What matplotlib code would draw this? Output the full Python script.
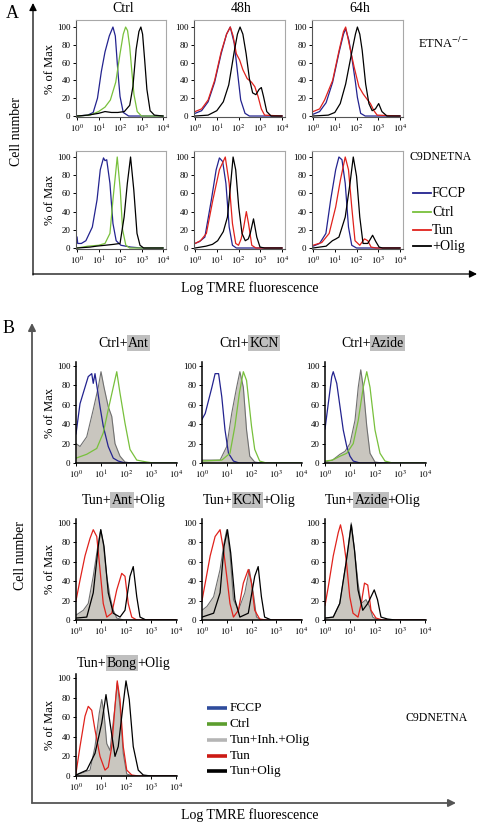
import numpy as np
import matplotlib
matplotlib.use("Agg")
import matplotlib.pyplot as plt

plt.rcParams['font.family'] = ['Liberation Serif', 'DejaVu Serif']
plt.rcParams['mathtext.fontset'] = 'stix'

W, H = 480, 822

# --------- Datos (log10 intensidad, % of Max) ---------

# Panel A, ETNA-/-
a_e_ctrl_fccp = [(0,0),(0.5,1),(0.75,4),(0.95,20),(1.13,50),(1.3,72),(1.5,90),(1.67,100),(1.78,90),(1.9,50),(2.0,22),(2.15,4),(2.4,0),(4,0)]
a_e_ctrl_ctrl = [(0,0),(0.6,1),(1.0,5),(1.3,10),(1.55,18),(1.8,38),(2.0,70),(2.15,92),(2.26,100),(2.35,96),(2.45,78),(2.55,50),(2.65,24),(2.8,5),(3.0,0),(4,0)]
a_e_ctrl_olig = [(0,0),(0.5,1),(1.0,3),(1.3,5),(1.6,4),(1.9,4),(2.2,5),(2.45,12),(2.6,33),(2.75,75),(2.88,95),(2.97,100),(3.05,92),(3.15,62),(3.25,30),(3.4,6),(3.6,1),(4,0)]

a_e_48_fccp = [(0,3),(0.3,6),(0.6,16),(0.9,38),(1.2,70),(1.45,92),(1.62,100),(1.8,82),(1.95,50),(2.1,18),(2.3,3),(2.5,0),(4,0)]
a_e_48_tun = [(0,5),(0.3,8),(0.6,18),(0.9,40),(1.2,72),(1.45,92),(1.62,100),(1.75,90),(1.9,70),(2.05,63),(2.2,52),(2.4,42),(2.6,38),(2.75,33),(2.9,22),(3.05,8),(3.2,1),(4,0)]
a_e_48_olig = [(0,0),(0.6,1),(1.0,6),(1.3,16),(1.55,35),(1.8,72),(1.95,92),(2.07,100),(2.2,92),(2.35,70),(2.5,42),(2.65,26),(2.8,24),(2.95,30),(3.05,32),(3.15,22),(3.3,5),(3.5,0),(4,0)]

a_e_64_fccp = [(0,2),(0.3,5),(0.6,15),(0.9,38),(1.2,72),(1.4,92),(1.5,98),(1.65,85),(1.8,63),(1.95,38),(2.04,21),(2.19,3),(2.4,0),(4,0)]
a_e_64_tun = [(0,5),(0.3,8),(0.53,18),(0.9,40),(1.2,74),(1.4,95),(1.5,100),(1.66,81),(1.89,55),(2.11,33),(2.3,25),(2.42,21),(2.64,14),(2.8,6),(2.95,1),(4,0)]
a_e_64_olig = [(0,0),(0.7,1),(1.0,4),(1.25,14),(1.5,36),(1.8,74),(1.95,92),(2.04,100),(2.15,92),(2.26,74),(2.42,36),(2.57,14),(2.72,6),(2.87,8),(3.02,14),(3.17,5),(3.4,0),(4,0)]

# Panel A, C9DNETNA
a_c_ctrl_fccp = [(0,12),(0.03,5),(0.2,5),(0.41,8),(0.71,23),(0.93,53),(1.08,86),(1.23,99),(1.3,96),(1.38,97),(1.53,71),(1.67,27),(1.82,8),(2.04,3),(2.5,1),(3,0),(4,0)]
a_c_ctrl_ctrl = [(0,0),(0.5,2),(1.0,3),(1.3,5),(1.53,16),(1.67,53),(1.87,100),(2.01,64),(2.12,20),(2.27,3),(2.45,0),(4,0)]
a_c_ctrl_olig = [(0,0),(0.6,1),(0.9,2),(1.3,3),(1.7,4),(2.0,5),(2.19,34),(2.34,71),(2.49,100),(2.64,64),(2.79,16),(2.93,3),(3.1,0),(4,0)]

a_c_48_fccp = [(0,5),(0.2,7),(0.45,12),(0.75,53),(0.97,86),(1.12,99),(1.27,95),(1.42,71),(1.57,23),(1.72,3),(1.9,0),(4,0)]
a_c_48_tun = [(0,5),(0.25,8),(0.52,16),(0.82,53),(1.12,86),(1.39,100),(1.57,71),(1.72,27),(1.87,5),(2.0,3),(2.12,10),(2.24,23),(2.36,40),(2.46,27),(2.61,3),(2.8,0),(4,0)]
a_c_48_olig = [(0,0),(0.5,2),(0.8,4),(1.04,8),(1.3,18),(1.49,34),(1.64,71),(1.75,100),(1.87,86),(2.01,45),(2.16,16),(2.31,8),(2.45,10),(2.54,16),(2.69,32),(2.84,12),(2.99,1),(3.2,0),(4,0)]

a_c_64_fccp = [(0,2),(0.3,5),(0.59,16),(0.81,53),(1.04,86),(1.19,100),(1.33,97),(1.48,71),(1.63,23),(1.78,3),(2.0,0),(4,0)]
a_c_64_tun = [(0,3),(0.4,6),(0.74,16),(1.04,45),(1.26,75),(1.48,100),(1.63,86),(1.78,45),(1.93,8),(2.15,3),(2.3,8),(2.37,10),(2.52,8),(2.67,1),(2.9,0),(4,0)]
a_c_64_olig = [(0,0),(0.6,2),(0.89,8),(1.05,10),(1.19,12),(1.48,34),(1.7,71),(1.85,100),(2.0,79),(2.15,34),(2.3,5),(2.52,5),(2.74,14),(2.89,7),(3.04,1),(3.2,0),(4,0)]

# Panel B, fila 1 (Ctrl + inhibidor)
b_ant_fccp = [(0,30),(0.16,61),(0.36,78),(0.49,89),(0.63,92),(0.69,82),(0.76,92),(0.96,58),(1.09,38),(1.29,17),(1.49,5),(1.69,2),(1.96,0),(4,0)]
b_ant_inh = [(0,20),(0.16,17),(0.43,27),(0.69,55),(0.89,78),(1.0,94),(1.12,78),(1.29,58),(1.43,48),(1.56,20),(1.76,7),(1.96,1),(2.2,0),(4,0)]
b_ant_ctrl = [(0,5),(0.43,9),(0.83,15),(1.09,31),(1.29,55),(1.49,78),(1.63,94),(1.76,72),(1.96,41),(2.16,14),(2.43,3),(2.83,1),(3.1,0),(4,0)]

b_kcn_fccp = [(0,45),(0.13,51),(0.27,65),(0.4,78),(0.53,92),(0.67,92),(0.8,68),(0.93,34),(1.07,10),(1.27,2),(1.5,0),(4,0)]
b_kcn_inh = [(0,3),(0.73,3),(1.0,17),(1.2,51),(1.4,78),(1.53,94),(1.67,78),(1.8,34),(1.93,7),(2.13,1),(2.4,0),(4,0)]
b_kcn_ctrl = [(0,2),(0.8,3),(1.13,10),(1.33,38),(1.51,72),(1.67,94),(1.8,85),(2.0,38),(2.13,14),(2.33,2),(2.6,0),(4,0)]

b_azide_fccp = [(0,35),(0.13,61),(0.27,89),(0.33,94),(0.47,82),(0.6,58),(0.73,34),(0.87,17),(1.0,7),(1.13,2),(1.4,0),(4,0)]
b_azide_inh = [(0,1),(0.3,3),(0.6,9),(0.8,12),(1.0,20),(1.2,44),(1.33,78),(1.43,96),(1.53,78),(1.67,38),(1.8,10),(2.0,1),(2.3,0),(4,0)]
b_azide_ctrl = [(0,2),(0.3,3),(0.6,7),(0.87,10),(1.13,20),(1.33,44),(1.53,78),(1.67,94),(1.8,78),(2.0,34),(2.2,10),(2.4,2),(2.7,0),(4,0)]

# Panel B, fila 2 (Tun + inhibidor + Olig)
b_tant_tun = [(0,20),(0.16,41),(0.36,66),(0.56,84),(0.69,93),(0.83,86),(0.96,52),(1.09,17),(1.23,3),(1.43,7),(1.63,31),(1.83,48),(1.96,45),(2.09,17),(2.23,3),(2.43,0),(4,0)]
b_tant_inh = [(0,5),(0.29,10),(0.49,17),(0.69,45),(0.89,79),(0.99,93),(1.09,79),(1.23,45),(1.36,24),(1.49,10),(1.63,2),(1.9,0),(4,0)]
b_tant_olig = [(0,2),(0.43,3),(0.69,28),(0.89,76),(0.99,93),(1.12,76),(1.29,28),(1.49,7),(1.76,3),(1.96,10),(2.16,45),(2.29,55),(2.43,24),(2.56,3),(2.8,0),(4,0)]

b_tkcn_tun = [(0,20),(0.13,38),(0.33,66),(0.53,86),(0.73,93),(0.87,72),(1.0,45),(1.13,17),(1.27,3),(1.47,10),(1.67,38),(1.87,52),(2.0,38),(2.13,10),(2.33,1),(2.6,0),(4,0)]
b_tkcn_inh = [(0,10),(0.2,14),(0.47,24),(0.73,52),(0.89,79),(1.0,93),(1.13,69),(1.27,21),(1.47,10),(1.73,28),(1.91,52),(2.07,28),(2.2,3),(2.4,0),(4,0)]
b_tkcn_olig = [(0,3),(0.47,7),(0.73,28),(0.89,76),(1.03,93),(1.16,69),(1.33,21),(1.53,3),(1.87,7),(2.13,45),(2.27,55),(2.4,24),(2.53,3),(2.8,0),(4,0)]

b_tazide_tun = [(0,15),(0.13,34),(0.33,66),(0.53,90),(0.62,98),(0.72,86),(0.86,59),(0.99,24),(1.12,7),(1.32,3),(1.45,17),(1.58,38),(1.71,36),(1.84,10),(2.04,2),(2.3,0),(4,0)]
b_tazide_inh = [(0,2),(0.33,3),(0.59,17),(0.86,62),(1.05,100),(1.18,72),(1.32,38),(1.45,17),(1.64,21),(1.78,14),(1.91,3),(2.1,0),(4,0)]
b_tazide_olig = [(0,2),(0.33,3),(0.59,17),(0.86,62),(1.05,98),(1.18,72),(1.32,31),(1.51,10),(1.71,17),(1.97,31),(2.1,21),(2.24,3),(2.5,1),(2.8,0),(4,0)]

# Panel B, fila 3 (Bong)
b_bong_tun = [(0,3),(0.16,30),(0.36,61),(0.49,71),(0.63,67),(0.76,47),(0.96,20),(1.16,6),(1.29,9),(1.43,30),(1.56,71),(1.65,97),(1.76,78),(1.89,30),(2.03,6),(2.23,1),(2.5,0),(4,0)]
b_bong_inh = [(0,1),(0.56,6),(0.76,30),(0.93,64),(1.03,78),(1.12,64),(1.23,33),(1.36,26),(1.56,71),(1.65,95),(1.76,71),(1.89,23),(2.03,2),(2.3,0),(4,0)]
b_bong_olig = [(0,1),(0.43,6),(0.76,23),(1.03,54),(1.2,83),(1.36,54),(1.56,20),(1.69,30),(1.89,74),(2.0,97),(2.13,78),(2.29,30),(2.49,6),(2.69,1),(3.0,0),(4,0)]

a_titles = ["Ctrl", "48h", "64h"]
a_legend = ["FCCP", "Ctrl", "Tun", "+Olig"]
b_legend = ["FCCP", "Ctrl", "Tun+Inh.+Olig", "Tun", "Tun+Olig"]
y_ticks = [0, 20, 40, 60, 80, 100]
x_ticks = [0, 1, 2, 3, 4]

BLUE = "#23238f"
GREEN = "#78c03c"
RED = "#e0221c"
BLACK = "#000000"
FILL = "#c9c6bf"
EDGE = "#707070"

# --------- Auxiliares ---------

fig = plt.figure(figsize=(W / 100, H / 100), dpi=100)
bg = fig.add_axes([0, 0, 1, 1])
bg.set_xlim(0, W)
bg.set_ylim(H, 0)
bg.axis("off")


def px_axes(x0, y0, x1, y1):
    ax = fig.add_axes([x0 / W, 1 - y1 / H, (x1 - x0) / W, (y1 - y0) / H])
    ax.patch.set_alpha(0)
    return ax


def style_ticks(ax):
    ax.set_xticks(x_ticks)
    ax.set_xticklabels([rf"$10^{{{t}}}$" for t in x_ticks])
    ax.set_yticks(y_ticks)
    ax.set_yticklabels([str(t) for t in y_ticks])
    ax.tick_params(direction="out", length=2.5, width=0.7, labelsize=6.5, pad=1.5)


def curve(ax, pts, color, lw=0.9, fill=False):
    x = [p[0] for p in pts]
    y = [p[1] for p in pts]
    if fill:
        ax.fill_between(x, y, 0, color=FILL, lw=0)
        ax.plot(x, y, color=EDGE, lw=0.8)
    else:
        ax.plot(x, y, color=color, lw=lw)


def arrow(x0, y0, x1, y1, color, lw):
    bg.annotate("", xy=(x1, y1), xytext=(x0, y0),
                arrowprops=dict(arrowstyle="-|>", color=color, lw=lw,
                                mutation_scale=11, shrinkA=0, shrinkB=0))


def title_parts(cx, cy, parts, size=10):
    # texto con palabras resaltadas en gris
    r = fig.canvas.get_renderer()
    items = []
    for s, hl in parts:
        kw = {}
        if hl:
            kw["bbox"] = dict(boxstyle="square,pad=0.08", fc="#bfbfbf", ec="none")
        t = bg.text(0, cy, s, fontsize=size, ha="left", va="center", **kw)
        items.append(t)
    widths = [t.get_window_extent(r).width for t in items]
    x = cx - sum(widths) / 2
    for t, w in zip(items, widths):
        t.set_x(x)
        x += w


# --------- Panel A ---------

a_cols = [(76, 166), (194, 285), (312, 403)]
a_rows = [(20, 117, (-1.1, 107.9)), (151, 249, (-1.1, 106.6))]
a_data = [
    [[(a_e_ctrl_fccp, BLUE), (a_e_ctrl_ctrl, GREEN), (a_e_ctrl_olig, BLACK)],
     [(a_e_48_fccp, BLUE), (a_e_48_tun, RED), (a_e_48_olig, BLACK)],
     [(a_e_64_fccp, BLUE), (a_e_64_tun, RED), (a_e_64_olig, BLACK)]],
    [[(a_c_ctrl_fccp, BLUE), (a_c_ctrl_ctrl, GREEN), (a_c_ctrl_olig, BLACK)],
     [(a_c_48_fccp, BLUE), (a_c_48_tun, RED), (a_c_48_olig, BLACK)],
     [(a_c_64_fccp, BLUE), (a_c_64_tun, RED), (a_c_64_olig, BLACK)]],
]

for ri, (y0, y1, ylim) in enumerate(a_rows):
    for ci, (x0, x1) in enumerate(a_cols):
        ax = px_axes(x0, y0, x1, y1)
        for pts, col in a_data[ri][ci]:
            curve(ax, pts, col)
        ax.set_xlim(-0.05, 4.14)
        ax.set_ylim(*ylim)
        style_ticks(ax)
        for side in ["top", "right"]:
            ax.spines[side].set_color("#a8a8a8")
            ax.spines[side].set_linewidth(0.8)
        for side in ["left", "bottom"]:
            ax.spines[side].set_color("#555555")
            ax.spines[side].set_linewidth(0.8)
        if ci == 0:
            ax.set_ylabel("% of Max", fontsize=9, labelpad=1)
        if ri == 0:
            bg.text((x0 + x1) / 2 + 2, 8, a_titles[ci], fontsize=10, ha="center", va="center")

bg.text(12, 13, "A", fontsize=13, ha="center", va="center")
arrow(33, 275, 33, 3, "black", 0.9)
arrow(33, 274, 477, 274, "black", 0.9)
bg.text(17, 132, "Cell number", fontsize=10, rotation=90, ha="center", va="center")
bg.text(250, 288, "Log TMRE fluorescence", fontsize=10, ha="center", va="center")
bg.text(418, 43, r"ETNA$^{-/-}$", fontsize=9, ha="left", va="center")
bg.text(409, 157, "C9DNETNA", fontsize=8.5, ha="left", va="center")

a_leg_y = [193, 212, 230, 246]
for lab, col, yy in zip(a_legend, [BLUE, GREEN, RED, BLACK], a_leg_y):
    bg.plot([413, 431], [yy, yy], color=col, lw=1.3)
    bg.text(432, yy, lab, fontsize=10, ha="left", va="center")

# --------- Panel B ---------

b_cols = [(76, 177), (202, 302), (325, 426)]
b_rows = [(362, 463), (519, 620), (674, 776)]
b_data = [
    [[(b_ant_inh, None), (b_ant_fccp, BLUE), (b_ant_ctrl, GREEN)],
     [(b_kcn_inh, None), (b_kcn_fccp, BLUE), (b_kcn_ctrl, GREEN)],
     [(b_azide_inh, None), (b_azide_fccp, BLUE), (b_azide_ctrl, GREEN)]],
    [[(b_tant_inh, None), (b_tant_tun, RED), (b_tant_olig, BLACK)],
     [(b_tkcn_inh, None), (b_tkcn_tun, RED), (b_tkcn_olig, BLACK)],
     [(b_tazide_inh, None), (b_tazide_tun, RED), (b_tazide_olig, BLACK)]],
    [[(b_bong_inh, None), (b_bong_tun, RED), (b_bong_olig, BLACK)]],
]
b_titles = [
    [[("Ctrl+", False), ("Ant", True)], [("Ctrl+", False), ("KCN", True)], [("Ctrl+", False), ("Azide", True)]],
    [[("Tun+", False), ("Ant", True), ("+Olig", False)], [("Tun+", False), ("KCN", True), ("+Olig", False)],
     [("Tun+", False), ("Azide", True), ("+Olig", False)]],
    [[("Tun+", False), ("Bong", True), ("+Olig", False)]],
]
b_title_y = [343, 500, 663]

for ri, (y0, y1) in enumerate(b_rows):
    for ci, panel in enumerate(b_data[ri]):
        x0, x1 = b_cols[ci]
        ax = px_axes(x0, y0, x1, y1)
        for pts, col in panel:
            curve(ax, pts, col, fill=col is None)
        ax.set_xlim(0, 4.04)
        ax.set_ylim(0, 104)
        style_ticks(ax)
        ax.spines["top"].set_visible(False)
        ax.spines["right"].set_visible(False)
        for side in ["left", "bottom"]:
            ax.spines[side].set_linewidth(1.1)
        if ci == 0:
            ax.set_ylabel("% of Max", fontsize=9, labelpad=1)
        title_parts((x0 + x1) / 2 - 3, b_title_y[ri], b_titles[ri][ci])

bg.text(9, 328, "B", fontsize=13, ha="center", va="center")
arrow(32, 803, 32, 323, "#555555", 1.3)
arrow(32, 803, 456, 803, "#555555", 1.3)
bg.text(20, 556, "Cell number", fontsize=10, rotation=90, ha="center", va="center")
bg.text(250, 815, "Log TMRE fluorescence", fontsize=10, ha="center", va="center")
bg.text(405, 718, "C9DNETNA", fontsize=8.5, ha="left", va="center")

b_leg_y = [708, 724, 740, 756, 771]
for lab, col, yy in zip(b_legend, ["#2f4c9c", "#5c9e2e", "#b5b5b5", "#cc1a14", BLACK], b_leg_y):
    bg.plot([207, 227], [yy, yy], color=col, lw=2.6, solid_capstyle="butt")
    bg.text(230, yy, lab, fontsize=9.5, ha="left", va="center")

fig.savefig("out.png", dpi=100)
plt.close(fig)
